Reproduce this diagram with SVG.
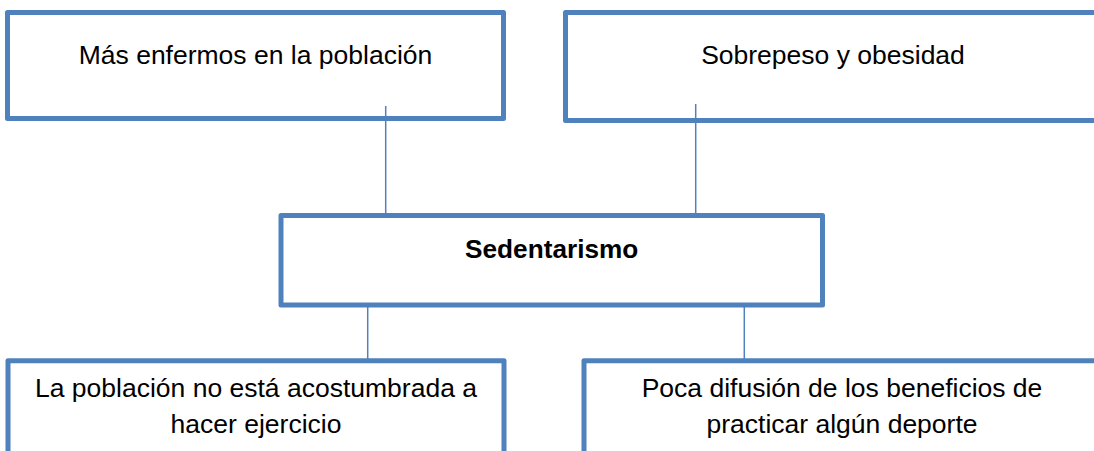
<svg xmlns="http://www.w3.org/2000/svg" width="1094" height="451" viewBox="0 0 1094 451">
<style>
.box{fill:#FFFFFF;stroke:#4F81BD;stroke-width:5;stroke-linejoin:round}
.conn{stroke:#4F81BD;stroke-width:1.5;fill:none}
.t{font-family:"Liberation Sans",Arial,sans-serif;font-size:26.5px;fill:#000000;text-anchor:middle}
.b{font-weight:bold;font-size:26.2px}
</style>
<rect width="1094" height="451" fill="#FFFFFF"/>
<g id="node-mas-enfermos">
<rect class="box" x="7.5" y="12.5" width="496" height="106"/>
<text class="t" x="255.5" y="64">Más enfermos en la población</text>
</g>
<g id="node-sobrepeso">
<rect class="box" x="565.5" y="12.5" width="536" height="108"/>
<text class="t" x="833" y="64">Sobrepeso y obesidad</text>
</g>
<g id="node-sedentarismo">
<rect class="box" x="281" y="215.5" width="541.5" height="89.5"/>
<text class="t b" x="551.7" y="258">Sedentarismo</text>
</g>
<g id="node-poblacion">
<rect class="box" x="8" y="360.8" width="496" height="120"/>
<text class="t" x="256" y="397">La población no está acostumbrada a</text>
<text class="t" x="256" y="433">hacer ejercicio</text>
</g>
<g id="node-difusion">
<rect class="box" x="584" y="360.8" width="516" height="120"/>
<text class="t" x="842" y="397">Poca difusión de los beneficios de</text>
<text class="t" x="842" y="433">practicar algún deporte</text>
</g>
<g id="connectors">
<line class="conn" x1="385.7" y1="106" x2="385.7" y2="215"/>
<line class="conn" x1="695.7" y1="104" x2="695.7" y2="216"/>
<line class="conn" x1="367.7" y1="305" x2="367.7" y2="360"/>
<line class="conn" x1="744.3" y1="305" x2="744.3" y2="360"/>
</g>
</svg>
